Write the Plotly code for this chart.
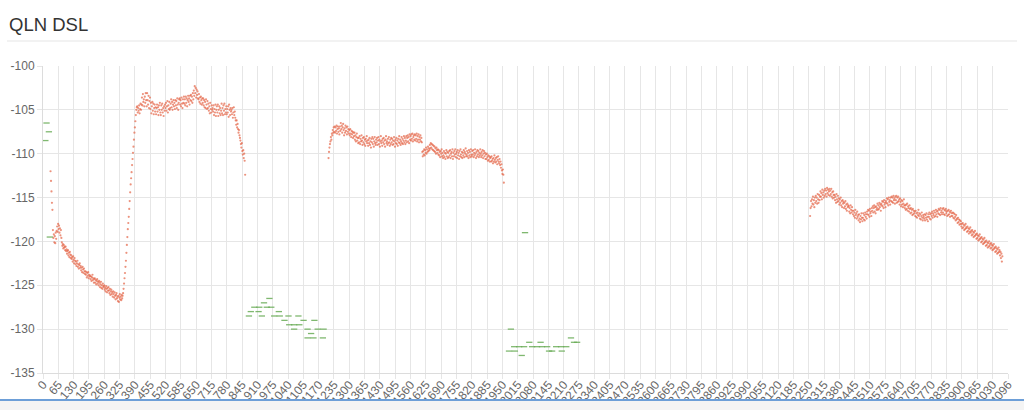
import plotly.graph_objects as go

# ---------------- data ----------------
title_text = "QLN DSL"

# x-axis tick labels (tone index)
x_tick_values = [0, 65, 130, 195, 260, 325, 390, 455, 520, 585, 650, 715, 780, 845, 910, 975,
                 1040, 1105, 1170, 1235, 1300, 1365, 1430, 1495, 1560, 1625, 1690, 1755, 1820,
                 1885, 1950, 2015, 2080, 2145, 2210, 2275, 2340, 2405, 2470, 2535, 2600, 2665,
                 2730, 2795, 2860, 2925, 2990, 3055, 3120, 3185, 3250, 3315, 3380, 3445, 3510,
                 3575, 3640, 3705, 3770, 3835, 3900, 3965, 4030, 4096]
y_tick_values = [-100, -105, -110, -115, -120, -125, -130, -135]

red_tone_step = 2

# red series (QLN, dB), band 1 starting at tone 32
red_seg1_first_tone = 32
red_seg1 = [
    -112.0, -113.1, -114.3, -115.6, -116.4,
    -118.7, -119.6, -119.2, -120.1, -119.4, -120.2, -119.0, -119.7, -118.8,
    -118.3, -118.9, -118.0, -118.6, -118.2, -119.0, -118.5, -119.3, -118.7, -119.6,
    -120.1, -120.5, -120.3, -120.8, -120.4, -120.7, -120.6, -121.0, -120.6, -121.1,
    -120.9, -121.4, -121.1, -121.0, -121.6, -121.3, -121.8, -121.2, -121.5, -121.9,
    -121.6, -122.0, -121.8, -122.3, -121.7, -122.1, -122.5, -121.9, -122.2, -122.6,
    -122.3, -122.8, -122.5, -122.2, -122.9, -122.6, -123.1, -122.7, -122.5, -123.0,
    -122.8, -123.3, -123.0, -123.5, -122.9, -123.2, -123.6, -123.1, -123.4, -123.7,
    -123.4, -123.8, -123.5, -124.1, -123.6, -123.9, -123.5, -124.2, -123.8, -124.0,
    -123.9, -124.3, -124.0, -124.5, -124.1, -123.8, -124.4, -124.2, -124.7, -124.3,
    -124.2, -124.7, -124.4, -124.9, -124.5, -124.3, -124.8, -124.6, -125.0, -124.5,
    -124.7, -125.2, -124.9, -124.6, -125.3, -125.0, -125.4, -124.8, -125.2, -125.1,
    -125.0, -125.5, -125.3, -125.7, -125.1, -125.4, -125.8, -125.3, -125.6, -125.2,
    -125.6, -125.9, -125.4, -126.1, -125.7, -125.5, -126.0, -125.8, -126.3, -125.7,
    -126.0, -126.4, -125.8, -126.2, -126.6, -126.1, -125.9, -126.5, -126.3, -126.8,
    -126.2, -126.9, -126.4, -126.0, -126.6, -126.3, -126.7, -126.1, -126.5, -126.2,
    -125.9, -125.4, -124.8, -124.2, -123.6, -122.9, -122.2, -121.3, -120.4, -119.5,
    -118.6, -117.9, -117.2, -116.3, -115.4, -114.4, -113.5, -112.8, -112.1, -111.3,
    -110.6, -109.9, -109.2, -108.4, -107.6, -107.0, -106.3, -105.6, -105.0, -104.7,
    -104.6, -105.3, -104.8, -105.1, -104.5, -105.4, -104.9, -104.3, -105.0, -104.4,
    -103.6, -104.5, -103.2, -104.1, -103.8, -104.6, -103.5, -104.2, -103.1, -103.9,
    -104.6, -103.1, -103.9, -104.4, -103.4, -104.8, -104.0, -103.6, -104.9, -104.2,
    -105.4, -104.6, -104.1, -105.1, -104.3, -105.5, -104.8, -104.4, -105.2, -104.7,
    -105.5, -104.8, -104.4, -105.2, -104.7, -105.6, -104.5, -105.0, -104.2, -105.3,
    -105.6, -104.5, -105.0, -104.3, -105.3, -104.8, -105.7, -104.6, -105.1, -104.4,
    -104.8, -104.2, -105.1, -104.6, -104.0, -105.3, -104.5, -104.9, -104.1, -105.0,
    -104.8, -104.3, -103.8, -104.7, -104.1, -105.0, -104.4, -103.9, -104.6, -104.2,
    -104.9, -103.9, -104.5, -104.0, -104.8, -103.7, -104.4, -105.0, -104.2, -103.8,
    -103.7, -104.4, -103.9, -104.6, -103.6, -104.3, -104.8, -103.8, -104.2, -103.5,
    -104.3, -103.8, -104.5, -103.5, -104.2, -103.7, -104.6, -103.9, -103.4, -104.1,
    -103.7, -104.4, -103.4, -103.9, -103.3, -104.0, -103.5, -104.2, -103.1, -103.8,
    -102.8, -103.4, -102.3, -103.1, -102.5, -103.6, -102.7, -103.3, -102.9, -103.7,
    -103.8, -103.2, -104.1, -103.6, -104.3, -103.5, -103.9, -104.4, -103.7, -104.2,
    -103.7, -104.5, -103.9, -104.7, -104.1, -104.8, -103.8, -104.4, -104.9, -104.0,
    -104.8, -104.3, -105.1, -104.6, -105.4, -104.2, -104.9, -105.3, -104.5, -105.0,
    -104.8, -105.2, -104.5, -105.6, -104.9, -105.3, -104.4, -105.7, -105.0, -104.6,
    -105.3, -104.4, -105.7, -105.0, -104.6, -105.4, -104.8, -105.6, -105.1, -104.3,
    -105.4, -104.8, -105.6, -104.5, -105.1, -104.3, -105.5, -104.9, -105.3, -104.6,
    -105.5, -104.9, -105.3, -104.6, -105.8, -104.4, -105.0, -105.6, -104.8, -105.2,
    -105.0, -105.5, -104.8, -105.9, -105.3, -104.7, -105.6, -105.2, -105.9, -106.2,
    -106.7, -106.2, -107.0, -106.6, -107.2, -107.6, -107.3, -107.9, -108.2, -108.5,
    -108.9, -109.3, -108.8, -109.7, -110.1, -109.6, -110.5, -110.0, -110.8, -112.4,
]

# band 2 starting at tone 1212
red_seg2_first_tone = 1212
red_seg2 = [
    -110.5, -109.8, -109.3, -108.9,
    -108.6, -108.1, -108.4, -107.7, -107.9, -107.3, -107.6, -107.0, -107.5, -106.9,
    -107.6, -107.0, -107.4, -106.8, -107.7, -107.2, -106.9, -107.5, -107.1, -107.8,
    -106.9, -107.4, -106.5, -107.2, -106.8, -107.6, -107.0, -106.6, -107.3, -107.9,
    -107.1, -107.6, -106.8, -107.4, -107.0, -107.8, -106.9, -107.5, -107.2, -107.7,
    -107.3, -107.9, -107.2, -107.7, -108.1, -107.4, -107.8, -107.5, -108.2, -107.6,
    -108.0, -107.6, -108.4, -107.9, -108.6, -108.1, -107.7, -108.5, -108.2, -108.8,
    -108.2, -108.7, -108.0, -108.9, -108.3, -108.6, -107.9, -108.5, -109.0, -108.2,
    -108.7, -108.1, -108.9, -108.4, -109.1, -108.3, -108.6, -108.0, -108.8, -108.5,
    -109.1, -108.4, -108.8, -108.2, -109.0, -108.6, -109.3, -108.3, -108.7, -108.1,
    -108.9, -108.3, -109.2, -108.6, -108.1, -108.8, -109.0, -108.4, -108.7, -108.2,
    -109.0, -108.5, -108.1, -108.9, -108.4, -109.2, -108.6, -108.0, -108.8, -108.5,
    -109.1, -108.3, -108.7, -108.2, -108.9, -108.5, -109.2, -108.4, -108.0, -108.8,
    -108.6, -109.0, -108.3, -108.8, -108.1, -108.7, -109.1, -108.4, -108.9, -108.2,
    -108.7, -108.3, -109.0, -108.5, -108.9, -108.1, -108.6, -109.2, -108.4, -108.8,
    -108.2, -108.9, -108.5, -109.1, -108.3, -108.7, -108.0, -108.8, -108.4, -109.0,
    -108.6, -108.1, -108.8, -108.3, -108.9, -108.5, -108.0, -108.7, -108.2, -108.9,
    -108.5, -108.0, -108.7, -108.2, -107.9, -108.6, -108.1, -108.8, -107.8, -108.4,
    -108.0, -108.5, -107.8, -108.3, -107.7, -108.6, -108.1, -107.9, -108.4, -107.8,
    -108.5, -107.9, -108.3, -107.7, -108.6, -108.0, -108.4, -107.8, -108.7, -108.1,
    -108.4, -107.9, -108.6, -108.2, -108.7, -109.8, -110.3, -109.7, -110.1, -109.5,
    -110.2, -109.6, -109.9, -109.3, -110.0, -109.5, -109.8, -109.2, -109.7, -109.4,
    -109.6, -109.0, -109.4, -108.8, -109.3, -108.9, -109.5, -109.0, -109.6, -109.1,
    -109.7, -109.2, -109.8, -109.4, -110.0, -109.3, -109.6, -109.9, -109.5, -110.1,
    -109.6, -110.2, -109.8, -110.4, -109.7, -110.0, -109.5, -110.3, -109.9, -110.5,
    -110.2, -109.7, -110.4, -109.9, -110.6, -110.0, -109.6, -110.3, -109.8, -110.5,
    -109.9, -110.4, -109.7, -110.2, -109.6, -110.5, -110.0, -109.8, -110.3, -109.5,
    -110.6, -109.9, -110.3, -109.7, -110.1, -109.5, -110.4, -110.0, -109.8, -110.5,
    -109.6, -110.2, -109.9, -110.6, -109.7, -110.3, -109.5, -110.1, -110.4, -109.8,
    -110.5, -109.9, -110.2, -109.6, -110.4, -109.8, -110.0, -109.4, -110.3, -110.1,
    -109.7, -110.3, -109.9, -110.5, -109.6, -110.2, -109.8, -110.4, -109.5, -110.1,
    -110.3, -109.7, -110.1, -109.6, -110.4, -109.9, -110.2, -109.5, -110.0, -110.5,
    -109.8, -110.3, -109.6, -110.1, -109.7, -110.4, -109.9, -110.2, -109.5, -110.0,
    -110.4, -109.8, -110.2, -109.6, -110.5, -110.0, -109.7, -110.3, -109.9, -110.6,
    -110.1, -110.6, -110.0, -110.4, -110.8, -110.2, -110.7, -110.3, -110.9, -110.5,
    -110.4, -110.9, -110.3, -110.8, -110.6, -111.1, -110.5, -110.9, -110.2, -110.7,
    -111.0, -110.5, -110.9, -110.4, -111.2, -110.7, -110.3, -110.9, -111.1, -110.6,
    -111.3, -110.9, -111.6, -111.2, -111.9, -112.3, -111.8, -112.4, -113.3,
]

# band 3 starting at tone 3256
red_seg3_first_tone = 3256
red_seg3 = [
    -117.1, -116.2,
    -115.4, -116.0, -115.2, -115.7, -114.9, -115.8, -115.3, -116.1, -115.0, -115.6,
    -114.8, -115.4, -115.0, -115.7, -114.6, -115.2, -115.6, -114.7, -115.3, -114.9,
    -114.3, -114.9, -114.5, -115.2, -114.1, -114.7, -114.4, -115.0, -114.2, -114.8,
    -114.0, -114.6, -114.2, -114.9, -113.9, -114.5, -114.1, -114.7, -114.3, -114.0,
    -114.8, -114.2, -114.6, -114.0, -114.9, -114.4, -115.1, -114.3, -114.7, -115.0,
    -114.7, -115.3, -114.9, -115.6, -114.6, -115.2, -115.5, -114.8, -115.4, -115.1,
    -115.8, -115.2, -115.6, -115.0, -115.9, -115.4, -116.1, -115.3, -115.7, -115.5,
    -116.2, -115.6, -116.0, -115.4, -116.3, -115.8, -116.5, -115.7, -116.1, -115.9,
    -116.0, -116.6, -116.2, -116.8, -115.9, -116.4, -116.7, -116.1, -116.5, -116.9,
    -116.5, -117.1, -116.7, -117.3, -116.4, -117.0, -116.8, -117.4, -116.6, -117.2,
    -117.0, -117.6, -116.9, -117.4, -117.8, -117.1, -117.5, -116.8, -117.3, -117.7,
    -117.3, -116.8, -117.5, -117.0, -117.6, -116.7, -117.2, -116.9, -117.4, -116.6,
    -116.9, -116.4, -117.0, -116.5, -117.2, -116.3, -116.8, -116.6, -117.1, -116.2,
    -116.5, -116.0, -116.7, -116.2, -115.9, -116.6, -116.1, -116.8, -116.0, -116.4,
    -116.2, -115.7, -116.4, -115.9, -116.3, -115.6, -116.1, -115.8, -116.5, -115.7,
    -115.9, -115.4, -116.0, -115.5, -116.2, -115.3, -115.8, -115.6, -116.1, -115.4,
    -115.6, -115.1, -115.7, -115.2, -115.9, -115.0, -115.5, -115.3, -115.8, -115.0,
    -115.4, -114.9, -115.5, -115.0, -115.6, -114.8, -115.3, -115.1, -115.7, -114.9,
    -115.3, -114.8, -115.6, -115.0, -115.5, -114.9, -115.4, -115.2, -115.8, -115.1,
    -115.5, -116.0, -115.3, -115.8, -115.4, -116.1, -115.7, -115.2, -115.9, -116.2,
    -115.9, -116.4, -115.8, -116.3, -115.7, -116.5, -116.0, -116.2, -116.6, -115.9,
    -116.3, -116.8, -116.2, -116.7, -116.4, -117.0, -116.3, -116.9, -116.5, -116.8,
    -116.6, -117.1, -116.5, -117.2, -116.8, -117.3, -116.7, -117.0, -116.4, -117.1,
    -116.8, -117.4, -116.9, -117.5, -117.1, -116.7, -117.3, -117.6, -117.0, -117.2,
    -117.4, -116.9, -117.6, -117.0, -117.3, -116.8, -117.5, -117.2, -117.7, -116.9,
    -117.2, -116.7, -117.4, -116.9, -117.5, -116.8, -117.1, -116.6, -117.3, -116.8,
    -117.0, -116.5, -117.2, -116.7, -117.1, -116.4, -116.9, -116.6, -117.2, -116.5,
    -116.8, -116.3, -116.9, -116.4, -117.0, -116.2, -116.7, -116.5, -116.9, -116.3,
    -116.7, -116.2, -116.9, -116.4, -117.0, -116.5, -116.3, -116.8, -116.6, -117.1,
    -116.5, -117.0, -116.4, -116.9, -116.6, -117.2, -116.7, -116.5, -117.1, -116.8,
    -117.1, -116.7, -117.3, -116.8, -117.4, -116.9, -117.2, -117.6, -117.0, -117.5,
    -117.4, -117.9, -117.3, -117.8, -117.5, -118.1, -117.6, -118.0, -117.7, -118.3,
    -118.0, -118.5, -117.9, -118.4, -118.1, -118.7, -118.2, -118.6, -118.0, -118.5,
    -118.4, -118.9, -118.3, -118.8, -118.5, -119.1, -118.6, -118.9, -118.4, -119.0,
    -118.8, -119.3, -118.7, -119.2, -118.9, -119.5, -119.0, -119.4, -118.8, -119.3,
    -119.2, -119.7, -119.1, -119.6, -119.3, -119.9, -119.4, -119.8, -119.2, -119.7,
    -119.6, -120.1, -119.5, -120.0, -119.7, -120.3, -119.8, -120.2, -119.6, -120.1,
    -120.0, -120.5, -119.9, -120.4, -120.1, -120.7, -120.2, -120.6, -120.0, -120.5,
    -120.3, -120.8, -120.2, -120.7, -120.4, -121.0, -120.5, -120.9, -120.3, -120.8,
    -120.7, -121.2, -120.6, -121.1, -120.8, -121.4, -120.9, -121.3, -120.7, -121.2,
    -121.0, -121.6, -121.2, -121.9, -121.4, -122.3, -121.7,
]

# green series (quantised 0.5 dB values at scattered tones)
green_tones = [10, 15, 25, 29,
               961, 938, 897, 918, 950, 969, 882, 915, 1001, 874, 929, 981, 1005, 1042, 1084,
               1025, 1106, 1152, 1045, 1066, 1088, 1066, 1123, 1166, 1191, 1138, 1123, 1148, 1188,
               1986, 2241, 2254, 2267, 2064, 2112, 2000, 2021, 2042, 2076, 2097, 2118, 2140,
               2178, 2199, 2221, 1978, 2003, 2148, 2161, 2202, 2032, 2046]
green_values = [-108.5, -106.5, -107.5, -119.5,
                -126.5, -127.0, -127.5, -127.5, -127.5, -127.5, -128.0, -128.0, -128.0, -128.5,
                -128.5, -128.5, -128.5, -128.5, -128.5, -129.0, -129.0, -129.0, -129.5, -129.5,
                -129.5, -130.0, -130.0, -130.0, -130.0, -130.5, -131.0, -131.0, -131.0,
                -130.0, -131.0, -131.5, -131.5, -131.5, -131.5, -132.0, -132.0, -132.0, -132.0,
                -132.0, -132.0, -132.0, -132.0, -132.0, -132.0, -132.5, -132.5, -132.5, -132.5,
                -132.5, -133.0, -119.0]

# ---------------- figure ----------------
red_x, red_y = [], []
for start, seg in ((red_seg1_first_tone, red_seg1), (red_seg2_first_tone, red_seg2),
                   (red_seg3_first_tone, red_seg3)):
    red_x += [start + red_tone_step * i for i in range(len(seg))]
    red_y += seg

FONT = "Liberation Sans, Arial, Helvetica, sans-serif"
GRID = "#e6e6e6"

fig = go.Figure()
fig.add_trace(go.Scatter(
    x=red_x, y=red_y, mode="markers",
    marker=dict(symbol="circle", size=2.2, color="rgba(228,100,70,0.7)", line=dict(width=0)),
    hoverinfo="skip", showlegend=False))
fig.add_trace(go.Scatter(
    x=green_tones, y=green_values, mode="markers",
    marker=dict(symbol="line-ew", size=4.5, color="rgba(104,172,86,0.85)",
                line=dict(width=1.3, color="rgba(104,172,86,0.85)")),
    hoverinfo="skip", showlegend=False))

L, R, T, B = 43, 16, 66, 37
W, H = 1024, 410
pw, ph = W - L - R, H - T - B


def px_x(px):
    return (px - L) / pw


def px_y(py):
    return (H - B - py) / ph


fig.update_layout(
    template="none",
    width=W, height=H,
    margin=dict(l=L, r=R, t=T, b=B, pad=0, autoexpand=False),
    paper_bgcolor="white", plot_bgcolor="white",
    font=dict(family=FONT, size=12, color="#666666"),
    xaxis=dict(range=[0, 4096], tickmode="array", tickvals=x_tick_values,
               ticktext=[str(v) for v in x_tick_values], tickangle=-50,
               showgrid=True, gridcolor=GRID, gridwidth=1, automargin=False,
               ticks="outside", ticklen=5, tickcolor=GRID, ticklabelstandoff=-6,
               showline=True, linecolor="#dcdcdc", linewidth=1,
               zeroline=False, fixedrange=True,
               tickfont=dict(family=FONT, size=12, color="#666666")),
    yaxis=dict(range=[-135, -100], tickmode="array", tickvals=y_tick_values,
               ticktext=[str(v) for v in y_tick_values],
               showgrid=True, gridcolor=GRID, gridwidth=1, automargin=False,
               ticks="outside", ticklen=5, tickcolor=GRID,
               showline=True, linecolor="#dcdcdc", linewidth=1,
               zeroline=False, fixedrange=True,
               tickfont=dict(family=FONT, size=12, color="#666666")),
    annotations=[dict(text=title_text, xref="paper", yref="paper",
                      x=px_x(7), y=px_y(37), xanchor="left", yanchor="bottom",
                      showarrow=False, font=dict(family=FONT, size=18.5, color="#333333"))],
    shapes=[
        dict(type="line", xref="paper", yref="paper", x0=px_x(7), x1=px_x(1017),
             y0=px_y(41), y1=px_y(41), line=dict(color="#e5e5e5", width=1), layer="above"),
        dict(type="rect", xref="paper", yref="paper", x0=px_x(0), x1=px_x(W),
             y0=px_y(401), y1=px_y(H + 2), fillcolor="#f4f4f4", line=dict(width=0), layer="above"),
        dict(type="line", xref="paper", yref="paper", x0=px_x(0), x1=px_x(W),
             y0=px_y(400), y1=px_y(400), line=dict(color="#6d9fd8", width=2), layer="above"),
    ],
)

fig.write_html("out.html")
